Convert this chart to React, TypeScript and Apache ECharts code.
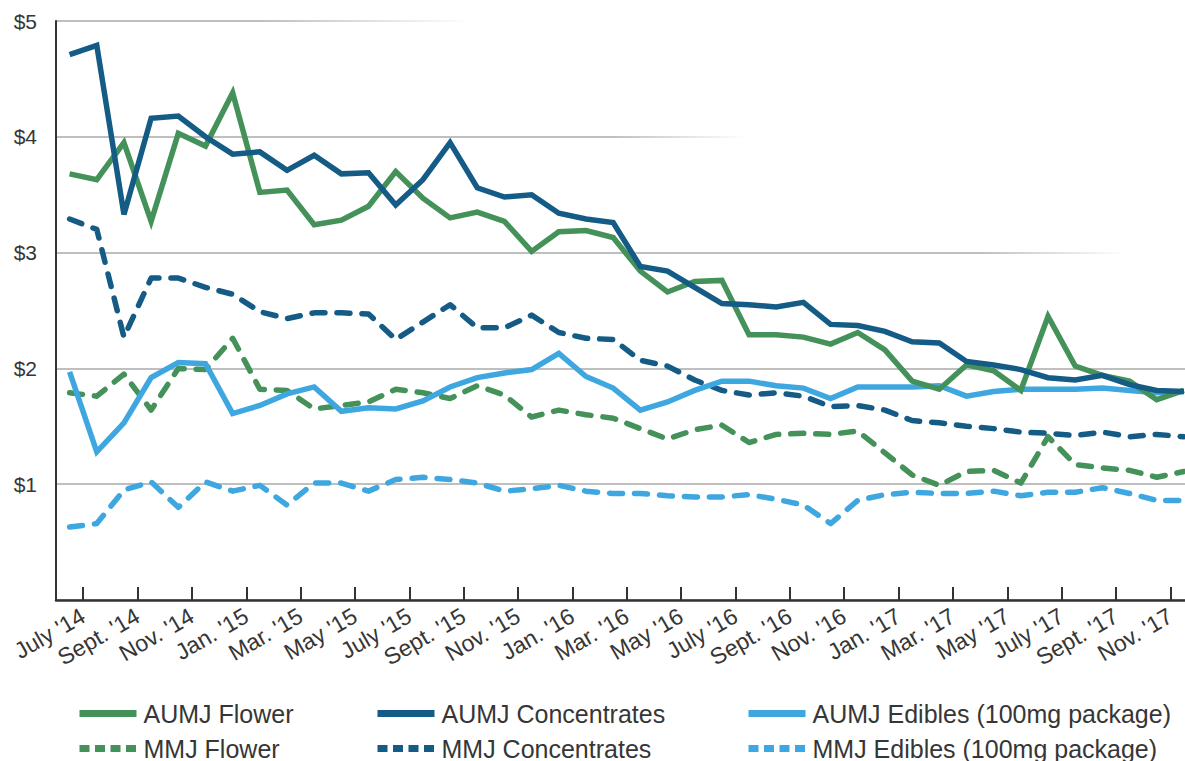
import React, { useEffect, useRef } from "react";
import * as echarts from "echarts";

const months = [
  "July '14", "Aug. '14", "Sept. '14", "Oct. '14", "Nov. '14", "Dec. '14",
  "Jan. '15", "Feb. '15", "Mar. '15", "Apr. '15", "May '15", "June '15",
  "July '15", "Aug. '15", "Sept. '15", "Oct. '15", "Nov. '15", "Dec. '15",
  "Jan. '16", "Feb. '16", "Mar. '16", "Apr. '16", "May '16", "June '16",
  "July '16", "Aug. '16", "Sept. '16", "Oct. '16", "Nov. '16", "Dec. '16",
  "Jan. '17", "Feb. '17", "Mar. '17", "Apr. '17", "May '17", "June '17",
  "July '17", "Aug. '17", "Sept. '17", "Oct. '17", "Nov. '17", "Dec. '17",
];

const yTicks = [0, 1, 2, 3, 4, 5];

const aumjFlower = [3.68, 3.63, 3.95, 3.27, 4.03, 3.92, 4.38, 3.52, 3.54, 3.24, 3.28, 3.40, 3.70, 3.47, 3.30, 3.35, 3.27, 3.01, 3.18, 3.19, 3.13, 2.84, 2.66, 2.75, 2.76, 2.29, 2.29, 2.27, 2.21, 2.31, 2.16, 1.89, 1.82, 2.03, 1.98, 1.81, 2.45, 2.02, 1.94, 1.89, 1.73, 1.81];
const aumjConcentrates = [4.71, 4.79, 3.33, 4.16, 4.18, 4.00, 3.85, 3.87, 3.71, 3.84, 3.68, 3.69, 3.41, 3.63, 3.95, 3.56, 3.48, 3.50, 3.34, 3.29, 3.26, 2.88, 2.84, 2.70, 2.56, 2.55, 2.53, 2.57, 2.38, 2.37, 2.32, 2.23, 2.22, 2.06, 2.03, 1.99, 1.92, 1.90, 1.94, 1.86, 1.81, 1.80];
const aumjEdibles = [1.97, 1.28, 1.53, 1.92, 2.05, 2.04, 1.61, 1.68, 1.78, 1.84, 1.63, 1.66, 1.65, 1.72, 1.84, 1.92, 1.96, 1.99, 2.13, 1.93, 1.83, 1.64, 1.71, 1.81, 1.89, 1.89, 1.85, 1.83, 1.74, 1.84, 1.84, 1.84, 1.85, 1.76, 1.80, 1.82, 1.82, 1.82, 1.83, 1.81, 1.79, 1.80];
const mmjFlower = [1.79, 1.76, 1.95, 1.64, 2.00, 1.99, 2.26, 1.82, 1.81, 1.65, 1.68, 1.71, 1.82, 1.79, 1.74, 1.85, 1.77, 1.58, 1.64, 1.60, 1.57, 1.48, 1.39, 1.47, 1.51, 1.36, 1.43, 1.44, 1.43, 1.46, 1.27, 1.08, 0.99, 1.11, 1.12, 1.01, 1.41, 1.17, 1.14, 1.12, 1.06, 1.11];
const mmjConcentrates = [3.29, 3.20, 2.27, 2.78, 2.78, 2.70, 2.64, 2.49, 2.43, 2.48, 2.48, 2.47, 2.25, 2.40, 2.55, 2.35, 2.35, 2.46, 2.31, 2.26, 2.25, 2.07, 2.02, 1.90, 1.81, 1.77, 1.79, 1.76, 1.67, 1.68, 1.64, 1.55, 1.53, 1.50, 1.48, 1.45, 1.44, 1.42, 1.45, 1.41, 1.43, 1.41];
const mmjEdibles = [0.63, 0.66, 0.95, 1.02, 0.80, 1.02, 0.94, 0.99, 0.82, 1.01, 1.01, 0.94, 1.04, 1.06, 1.04, 1.01, 0.94, 0.96, 0.99, 0.94, 0.92, 0.92, 0.90, 0.89, 0.89, 0.91, 0.87, 0.82, 0.66, 0.86, 0.91, 0.93, 0.92, 0.92, 0.94, 0.90, 0.93, 0.93, 0.97, 0.92, 0.86, 0.86];

const GREEN = "#44925a";
const DARK = "#145b85";
const LIGHT = "#3fa7df";
const FONT = "'Liberation Sans', Arial, sans-serif";
const TEXT = "#363636";
const GRID = "#aaaaaa";

function fade(x0: number, xs: number, x1: number) {
  const s = (xs - x0) / (x1 - x0);
  return new echarts.graphic.LinearGradient(
    x0, 0, x1, 0,
    [
      { offset: 0, color: GRID },
      { offset: s, color: GRID },
      { offset: 1, color: "rgba(170,170,170,0)" },
    ],
    true
  );
}

export default function App() {
  const ref = useRef<HTMLDivElement>(null);
  useEffect(() => {
    if (!ref.current) return;
    const chart = echarts.init(ref.current, null, { renderer: "svg" });

    const solid = (name: string, data: number[], color: string) => ({
      name, type: "line", data, xAxisIndex: 0, yAxisIndex: 0,
      symbol: "none", color,
      lineStyle: { color, width: 5.5, join: "miter" },
    });
    const dashed = (name: string, data: number[], color: string) => ({
      name, type: "line", data, xAxisIndex: 0, yAxisIndex: 0,
      symbol: "none", color,
      lineStyle: { color, width: 5.5, type: [13, 12], cap: "round", join: "round" },
    });

    const legendBase = (left: number, a: string, b: string) => ({
      show: true,
      orient: "vertical",
      left, top: 699, height: 90,
      padding: 0,
      itemWidth: 57, itemHeight: 14, itemGap: 6,
      selectedMode: false,
      itemStyle: { opacity: 0, borderWidth: 0 },
      lineStyle: { width: 7 },
      textStyle: { fontSize: 25, fontFamily: FONT, color: TEXT, lineHeight: 29, padding: [0, 0, 0, 2] },
      data: [
        { name: a, itemStyle: { opacity: 0 }, lineStyle: { width: 7, type: "solid", cap: "butt" } },
        { name: b, itemStyle: { opacity: 0 }, lineStyle: { width: 7, type: [10, 5.5], cap: "butt" } },
      ],
    });

    const boundaryCats = ["", ...months];

    chart.setOption({
      animation: false,
      backgroundColor: "#ffffff",
      grid: { left: 56, top: 21, width: 1141.5, height: 579, containLabel: false },
      legend: [
        legendBase(76, "AUMJ Flower", "MMJ Flower"),
        legendBase(374, "AUMJ Concentrates", "MMJ Concentrates"),
        legendBase(745, "AUMJ Edibles (100mg package)", "MMJ Edibles (100mg package)"),
      ],
      xAxis: [
        {
          type: "category",
          data: months,
          boundaryGap: true,
          position: "bottom",
          axisLine: { show: true, lineStyle: { color: "#333333", width: 2.5 } },
          axisTick: { show: false },
          axisLabel: { show: false },
          splitLine: { show: false },
        },
        {
          type: "category",
          data: boundaryCats,
          boundaryGap: false,
          position: "bottom",
          axisLine: { show: false },
          axisTick: {
            show: true, inside: true, length: 13,
            interval: (i: number) => i % 2 === 1,
            lineStyle: { color: "#333333", width: 2 },
          },
          axisLabel: {
            show: true,
            interval: (i: number) => i % 2 === 1,
            rotate: 30,
            margin: 14,
            fontSize: 23,
            fontFamily: FONT,
            color: TEXT,
          },
          splitLine: { show: false },
        },
      ],
      yAxis: {
        type: "value",
        min: yTicks[0],
        max: yTicks[yTicks.length - 1],
        interval: 1,
        axisLine: { show: true, lineStyle: { color: "#333333", width: 2 } },
        axisTick: { show: false },
        axisLabel: {
          margin: 19,
          fontSize: 21,
          fontFamily: FONT,
          color: TEXT,
          formatter: (v: number) => (v === 0 ? "" : "$" + v),
        },
        splitLine: {
          show: true,
          lineStyle: {
            width: 1.5,
            color: [GRID, GRID, GRID, fade(56, 980, 1127), fade(56, 610, 746), fade(56, 260, 473)],
          },
        },
      },
      series: [
        dashed("MMJ Edibles (100mg package)", mmjEdibles, LIGHT),
        dashed("MMJ Flower", mmjFlower, GREEN),
        dashed("MMJ Concentrates", mmjConcentrates, DARK),
        solid("AUMJ Edibles (100mg package)", aumjEdibles, LIGHT),
        solid("AUMJ Flower", aumjFlower, GREEN),
        solid("AUMJ Concentrates", aumjConcentrates, DARK),
      ],
    });
    return () => chart.dispose();
  }, []);

  return (
    <div style={{ position: "fixed", left: 0, top: 0, width: 1185, height: 761, overflow: "hidden", background: "#fff" }}>
      <div ref={ref} style={{ width: 1200, height: 761 }} />
    </div>
  );
}
